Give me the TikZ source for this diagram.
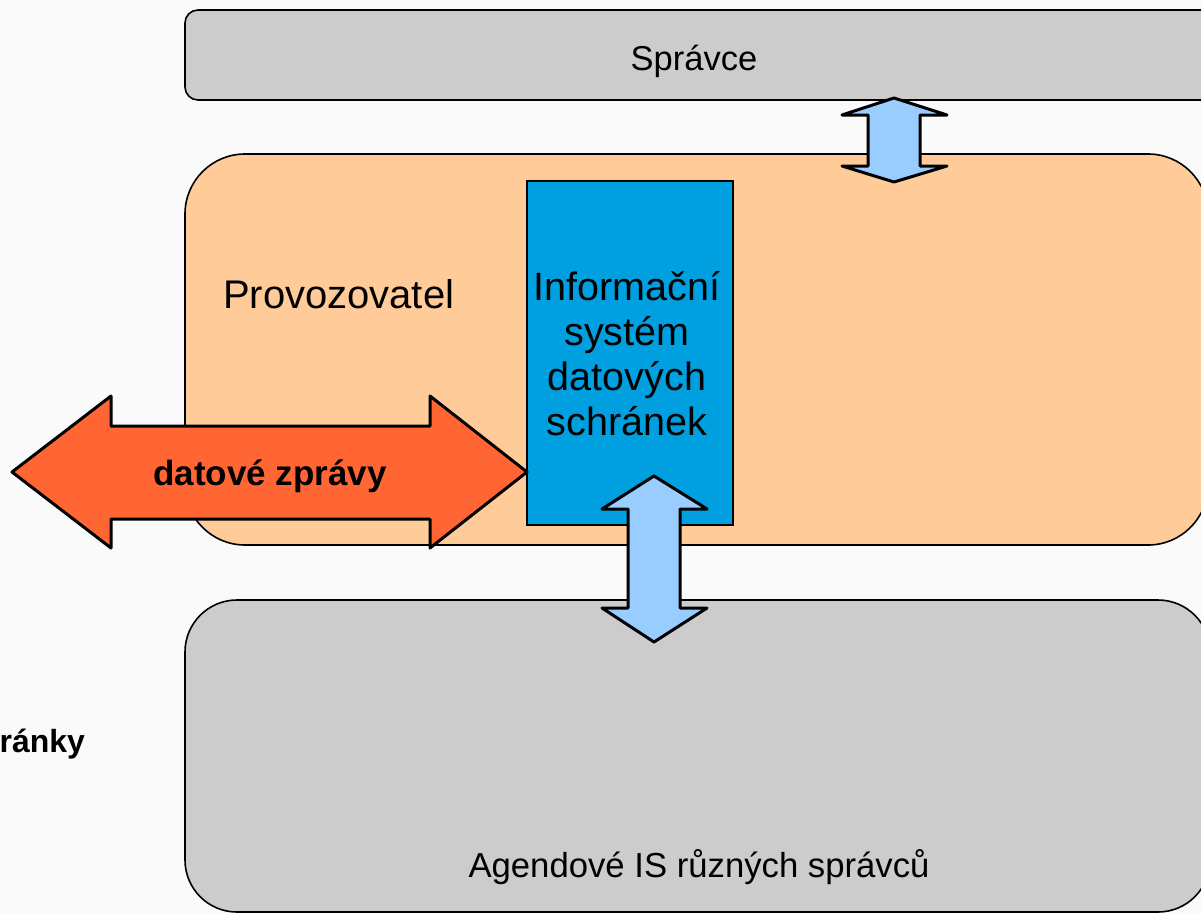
\documentclass[tikz,border=0pt]{standalone}
\usepackage{fontspec}
\setmainfont{Liberation Sans}
\definecolor{bgc}{HTML}{FAFAFA}
\definecolor{grayfill}{HTML}{CCCCCC}
\definecolor{orangefill}{HTML}{FFCC99}
\definecolor{isblue}{HTML}{00A0E0}
\definecolor{arroworange}{HTML}{FF6633}
\definecolor{arrowblue}{HTML}{99CCFF}
\begin{document}
\begin{tikzpicture}[x=1pt,y=-1pt,
  boxline/.style={draw=black, line width=1.6pt},
  blockarrow/.style={draw=black, line width=3pt, line join=round},
  txt/.style={inner sep=0pt, outer sep=0pt, text=black}]
\useasboundingbox (0,0) rectangle (1201,913);
\fill[bgc] (0,0) rectangle (1201,913);
% boxes
\draw[boxline, fill=grayfill, rounded corners=13pt] (185,10) rectangle (1240,100);
\draw[boxline, fill=orangefill, rounded corners=60pt] (185,154) rectangle (1208,545);
\draw[boxline, fill=grayfill, rounded corners=52pt] (185,600) rectangle (1210,912);
\draw[draw=black, line width=2.6pt, fill=isblue] (527,181) rectangle (733,525);
% orange double arrow
\draw[blockarrow, fill=arroworange] (12,472) -- (111,396) -- (111,426) -- (430,426) -- (430,396) -- (527,472) -- (430,548) -- (430,519) -- (111,519) -- (111,548) -- cycle;
% top blue double arrow
\draw[blockarrow, fill=arrowblue] (894,98) -- (947,115) -- (920,115) -- (920,166) -- (947,166) -- (894,182) -- (842,166) -- (868,166) -- (868,115) -- (842,115) -- cycle;
% bottom blue double arrow
\draw[blockarrow, fill=arrowblue] (654,476) -- (707,509) -- (680,509) -- (680,608) -- (707,608) -- (654,642) -- (602,608) -- (628,608) -- (628,509) -- (602,509) -- cycle;
% texts
\node[txt, font=\fontsize{34.5}{40}\selectfont, anchor=base] (spr) at (694,70) {Správce};
\node[txt, font=\fontsize{40}{45}\selectfont, anchor=base west] (prov) at (223,308) {Provozovatel};
\node[txt, font=\fontsize{39.5}{45}\selectfont, align=center, anchor=center] (isds) at (627,354) {Informační\\systém\\datových\\schránek};
\node[txt, font=\fontsize{35}{40}\selectfont\bfseries, anchor=base] (dz) at (270,485) {datové zprávy};
\node[txt, font=\fontsize{32}{36}\selectfont\bfseries, anchor=base east] (str) at (85,752) {ránky};
\node[txt, font=\fontsize{34.7}{40}\selectfont, anchor=base] (age) at (699,877) {Agendové IS různých správců};
\end{tikzpicture}
\end{document}
